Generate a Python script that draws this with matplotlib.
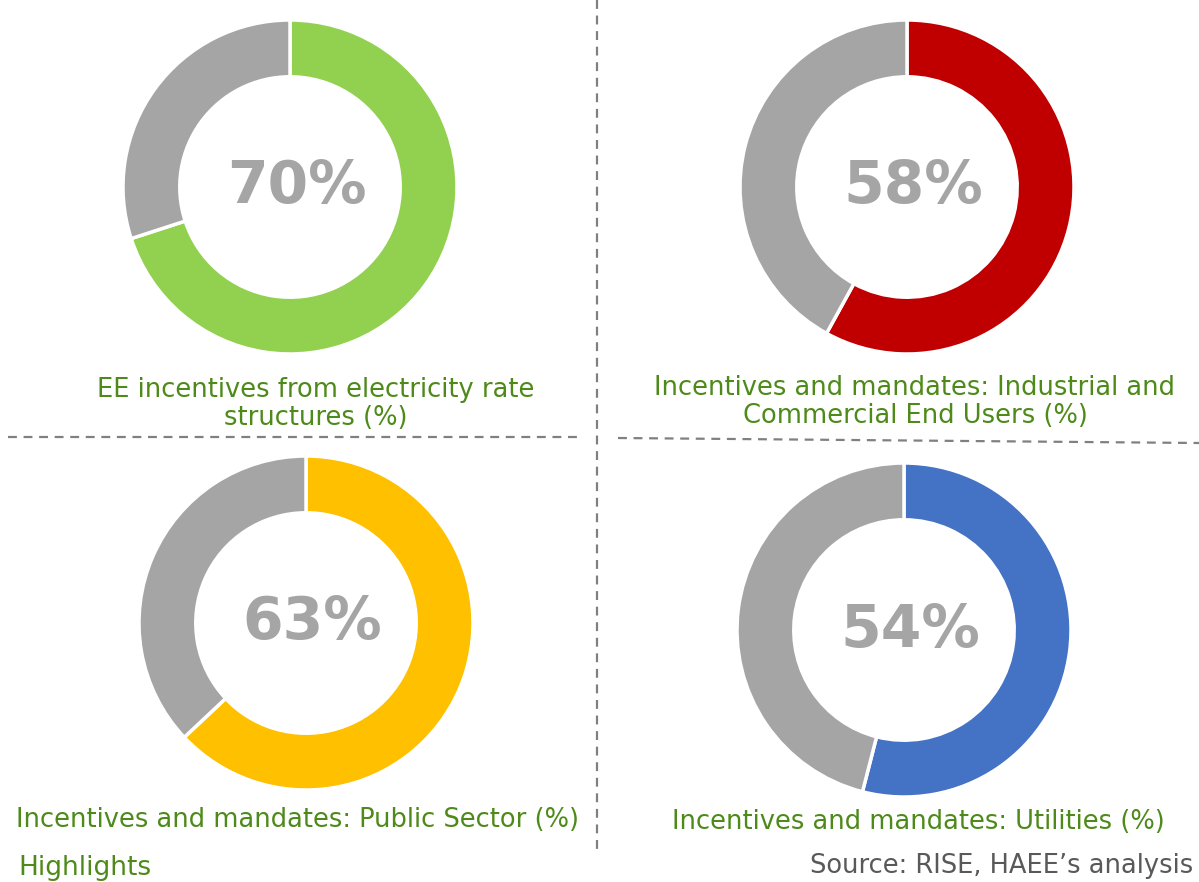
import matplotlib.pyplot as plt

W, H = 1199, 882

# data
titles = ['EE incentives from electricity rate\nstructures (%)',
          'Incentives and mandates: Industrial and\nCommercial End Users (%)',
          'Incentives and mandates: Public Sector (%)',
          'Incentives and mandates: Utilities (%)']
shares = [70, 58, 63, 54]
colors = ['#92D050', '#C00000', '#FFC000', '#4472C4']
rest_color = '#A5A5A5'

# layout in pixels: donut centre, outer radius, title position
centres = [(290, 187), (907, 187), (306, 623), (904, 630)]
radius = 167
title_pos = [(316, 404), (915, 402), (297, 820), (918, 822)]

fig = plt.figure(figsize=(W / 100, H / 100), dpi=100)

for (cx, cy), val, col in zip(centres, shares, colors):
    ax = fig.add_axes([(cx - radius) / W, 1 - (cy + radius) / H, 2 * radius / W, 2 * radius / H])
    ax.pie([val, 100 - val], colors=[col, rest_color], startangle=90, counterclock=False,
           radius=1, wedgeprops=dict(width=0.34, edgecolor='white', linewidth=2.5))
    ax.set_xlim(-1, 1)
    ax.set_ylim(-1, 1)
    ax.set_aspect('equal')
    ax.axis('off')
    ax.text(0.04, 0, f'{val}%', ha='center', va='center', fontsize=42, fontweight='bold',
            color=rest_color)

# overlay for separators and text
ov = fig.add_axes([0, 0, 1, 1], zorder=-1)
ov.set_xlim(0, W)
ov.set_ylim(H, 0)
ov.axis('off')

dash = dict(color='#808080', linewidth=1.6, linestyle=(0, (4, 3)))
ov.plot([597, 597], [0, 855], **dash)
ov.plot([8, 578], [437, 437], **dash)
ov.plot([618, 1199], [438, 443], **dash)

for (tx, ty), t in zip(title_pos, titles):
    ov.text(tx, ty, t, ha='center', va='center', fontsize=18.5, color='#4E8A1A',
            linespacing=1.1)

ov.text(1193, 866, 'Source: RISE, HAEE\u2019s analysis', ha='right', va='center',
        fontsize=18.5, color='#595959')
ov.text(18, 881, 'Highlights', ha='left', va='bottom', fontsize=19, color='#4E8A1A')

fig.savefig('out.png', dpi=100)
